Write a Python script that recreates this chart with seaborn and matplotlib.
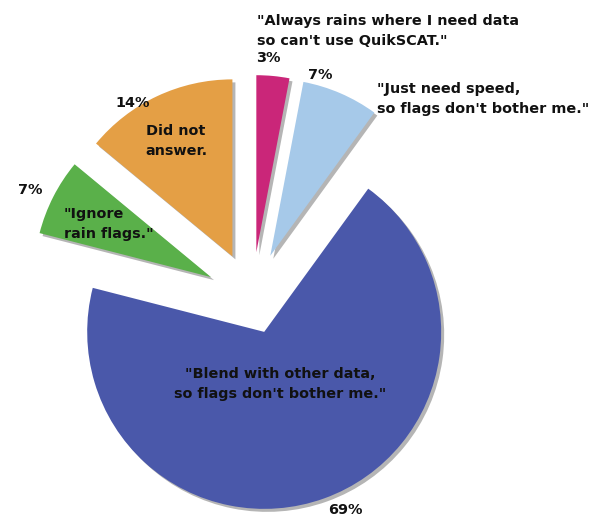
import matplotlib
matplotlib.use("Agg")
import matplotlib.pyplot as plt
import seaborn as sns

# ---- data ----
categories = ["Always rains", "Just need speed", "Blend with other data",
              "Ignore rain flags", "Did not answer"]
shares = [3, 7, 69, 7, 14]
pct_labels = ["3%", "7%", "69%", "7%", "14%"]
colors = ["#CA2679", "#A6C9E9", "#4A58AA", "#5AB04A", "#E49F45"]
quotes = ['"Always rains where I need data\nso can\'t use QuikSCAT."',
          '"Just need speed,\nso flags don\'t bother me."',
          '"Blend with other data,\nso flags don\'t bother me."',
          '"Ignore\nrain flags."',
          'Did not\nanswer.']

# ---- layout (pixel coordinates of a 596x522 canvas) ----
W, H = 596, 522
center_px = (252, 298)
radius = 177
explode = [46, 46, 36, 46, 46]

sns.set_theme(style="white")
plt.rcParams['font.family'] = ['DejaVu Sans']

fig = plt.figure(figsize=(W / 100, H / 100), dpi=100)
ax = fig.add_axes([0, 0, 1, 1])

cx, cy = center_px[0], H - center_px[1]
# soft grey shadow
ax.pie(shares, explode=explode, radius=radius, center=(cx + 3, cy - 3),
       startangle=90, counterclock=False, colors=["#B5B5B5"] * len(shares),
       wedgeprops=dict(linewidth=0))
ax.pie(shares, explode=explode, radius=radius, center=(cx, cy),
       startangle=90, counterclock=False, colors=colors,
       wedgeprops=dict(linewidth=0))

ax.set_xlim(0, W)
ax.set_ylim(0, H)
ax.set_aspect('equal')
ax.axis('off')

fs = 10.4
tc = "#111111"
def put(x, y, s, ha="center", va="center"):
    ax.text(x, H - y, s, ha=ha, va=va, fontsize=fs, fontweight="bold",
            color=tc, linespacing=1.55)

# quote / category labels
put(257, 31, quotes[0], ha="left")
put(377, 99, quotes[1], ha="left")
put(280, 384, quotes[2])
put(64, 224, quotes[3], ha="left")
put(176, 141, quotes[4])

# percent labels
put(268, 58, pct_labels[0])
put(320, 75, pct_labels[1])
put(345, 510, pct_labels[2])
put(30, 190, pct_labels[3])
put(133, 103, pct_labels[4])

fig.savefig("out.png", dpi=100)
